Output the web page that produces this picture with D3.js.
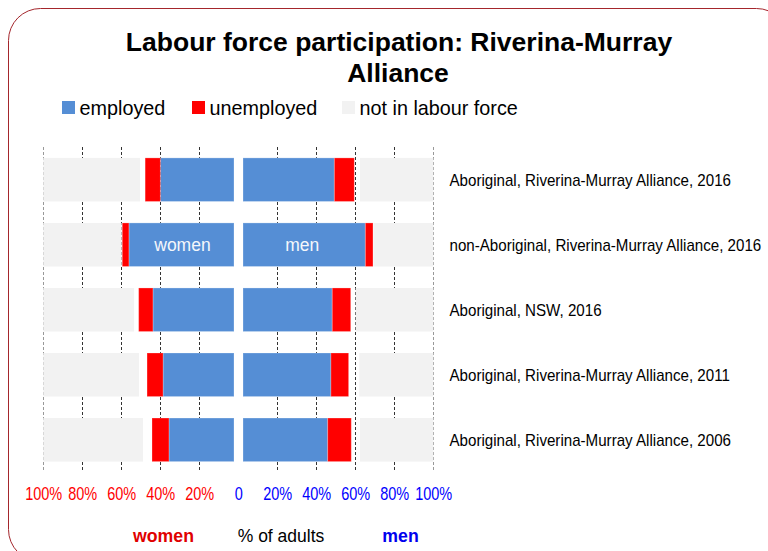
<!DOCTYPE html>
<html>
<head>
<meta charset="utf-8">
<script src="https://cdn.jsdelivr.net/npm/d3@7"></script>
<style>
  html, body { margin: 0; padding: 0; background: #fff; }
  svg { display: block; font-family: "Liberation Sans", Arial, sans-serif; }
</style>
</head>
<body>
<svg id="chart" width="768" height="551"></svg>
<script>
// ---------- data ----------
const categories = [
  "Aboriginal, Riverina-Murray Alliance, 2016",
  "non-Aboriginal, Riverina-Murray Alliance, 2016",
  "Aboriginal, NSW, 2016",
  "Aboriginal, Riverina-Murray Alliance, 2011",
  "Aboriginal, Riverina-Murray Alliance, 2006"
];
const womenEmployed   = [38.6, 55.1, 42.5, 37.2, 34.1];
const womenUnemployed = [8.0, 3.5, 7.5, 8.4, 8.9];
const womenNotInLF    = [50.7, 41.1, 47.6, 50.2, 52.3];
const menEmployed     = [48.0, 64.3, 46.9, 46.2, 44.5];
const menUnemployed   = [10.5, 4.0, 9.7, 9.3, 12.4];
const menNotInLF      = [38.5, 31.5, 40.8, 38.9, 38.5];
const tickValues = [-100, -80, -60, -40, -20, 0, 20, 40, 60, 80, 100];
const seriesNames = ["employed", "unemployed", "not in labour force"];

// ---------- styles ----------
const C_EMP = "#558ed5", C_UNE = "#ff0000", C_NIL = "#f2f2f2";

const svg = d3.select("#chart");

// frame
svg.append("rect")
  .attr("x", 8.5).attr("y", 8.5).attr("width", 780).attr("height", 553)
  .attr("rx", 32).attr("ry", 32)
  .attr("fill", "none").attr("stroke", "#a4262c").attr("stroke-width", 1);

// title
const title = svg.append("text").attr("text-anchor", "middle")
  .attr("font-weight", "bold").attr("font-size", 26.5).attr("fill", "#000");
title.append("tspan").attr("x", 399).attr("y", 51).text("Labour force participation: Riverina-Murray");
title.append("tspan").attr("x", 398).attr("y", 82).text("Alliance");

// legend
const legendColors = [C_EMP, C_UNE, C_NIL];
const legendX = [62, 192, 342];
const lg = svg.append("g");
seriesNames.forEach((name, i) => {
  lg.append("rect").attr("x", legendX[i]).attr("y", 101).attr("width", 13).attr("height", 13)
    .attr("fill", legendColors[i]);
  lg.append("text").attr("x", legendX[i] + 17.5).attr("y", 114.5)
    .attr("font-size", 19.8).attr("fill", "#000").text(name);
});

// scales
const axisScale = d3.scaleLinear().domain([-100, 100]).range([43.3, 433.3]);
const xWomen = d3.scaleLinear().domain([0, 100]).range([234, 43.3]);
const xMen   = d3.scaleLinear().domain([0, 100]).range([243, 433.3]);
const y = d3.scaleBand().domain(categories).range([147.5, 472])
  .paddingInner(0.33).paddingOuter(0.16);

// gridlines (dashed, not at zero)
svg.append("g").selectAll("line")
  .data(tickValues.filter(d => d !== 0))
  .join("line")
  .attr("x1", d => Math.round(axisScale(d)) + 0.5)
  .attr("x2", d => Math.round(axisScale(d)) + 0.5)
  .attr("y1", 147).attr("y2", 472)
  .attr("stroke", d => Math.abs(d) === 100 ? "#999" : "#333")
  .attr("stroke-width", 1)
  .attr("stroke-dasharray", "3,2");

const rows = categories.map((c, i) => ({
  cat: c,
  we: womenEmployed[i], wu: womenUnemployed[i], wn: womenNotInLF[i],
  me: menEmployed[i], mu: menUnemployed[i], mn: menNotInLF[i]
}));

const bars = svg.append("g");
const bh = y.bandwidth();
// women
bars.selectAll(".wn").data(rows).join("rect")
  .attr("x", d => xWomen(100)).attr("y", d => y(d.cat))
  .attr("width", d => xWomen(100 - d.wn) - xWomen(100)).attr("height", bh)
  .attr("fill", C_NIL);
bars.selectAll(".we").data(rows).join("rect")
  .attr("x", d => xWomen(d.we)).attr("y", d => y(d.cat))
  .attr("width", d => xWomen(0) - xWomen(d.we)).attr("height", bh)
  .attr("fill", C_EMP).attr("stroke", "#fff").attr("stroke-opacity", 0.25);
bars.selectAll(".wu").data(rows).join("rect")
  .attr("x", d => xWomen(d.we + d.wu)).attr("y", d => y(d.cat))
  .attr("width", d => xWomen(d.we) - xWomen(d.we + d.wu)).attr("height", bh)
  .attr("fill", C_UNE).attr("stroke", "#fff").attr("stroke-opacity", 0.25);
// men
bars.selectAll(".mn").data(rows).join("rect")
  .attr("x", d => xMen(100 - d.mn)).attr("y", d => y(d.cat))
  .attr("width", d => xMen(100) - xMen(100 - d.mn)).attr("height", bh)
  .attr("fill", C_NIL);
bars.selectAll(".me").data(rows).join("rect")
  .attr("x", d => xMen(0)).attr("y", d => y(d.cat))
  .attr("width", d => xMen(d.me) - xMen(0)).attr("height", bh)
  .attr("fill", C_EMP).attr("stroke", "#fff").attr("stroke-opacity", 0.25);
bars.selectAll(".mu").data(rows).join("rect")
  .attr("x", d => xMen(d.me)).attr("y", d => y(d.cat))
  .attr("width", d => xMen(d.me + d.mu) - xMen(d.me)).attr("height", bh)
  .attr("fill", C_UNE).attr("stroke", "#fff").attr("stroke-opacity", 0.25);

// in-bar labels on the second row
const r2 = rows[1];
svg.append("text").attr("text-anchor", "middle")
  .attr("x", (xWomen(0) + xWomen(r2.we)) / 2 + 1).attr("y", y(r2.cat) + bh / 2)
  .attr("dy", "0.35em").attr("font-size", 17.5).attr("fill", "#f4f7fb").text("women");
svg.append("text").attr("text-anchor", "middle")
  .attr("x", (xMen(0) + xMen(r2.me)) / 2 - 2).attr("y", y(r2.cat) + bh / 2)
  .attr("dy", "0.35em").attr("font-size", 17.5).attr("fill", "#f4f7fb").text("men");

// category labels (horizontally condensed via a group transform)
const kCat = 0.89;
svg.append("g").attr("transform", `scale(${kCat},1)`)
  .selectAll("text").data(categories).join("text")
  .attr("x", 449.5 / kCat).attr("y", d => y(d) + bh / 2).attr("dy", "0.36em")
  .attr("font-size", 17).attr("fill", "#000").text(d => d);

// bottom axis labels (condensed)
const kAx = 0.82;
const axisG = svg.append("g").attr("transform", `translate(0,500) scale(${kAx},1)`)
  .call(d3.axisBottom(axisScale.copy().range(axisScale.range().map(v => v / kAx)))
    .tickValues(tickValues).tickSize(0).tickPadding(0)
    .tickFormat(d => d === 0 ? "0" : Math.abs(d) + "%"));
axisG.select(".domain").remove();
axisG.selectAll("text")
  .attr("dy", 0).attr("y", 0)
  .attr("font-family", "Liberation Sans, Arial, sans-serif")
  .attr("font-size", 17.7)
  .attr("fill", d => d < 0 ? "#ff0000" : "#0000ff");

// axis titles
svg.append("text").attr("x", 163.5).attr("y", 541.5).attr("text-anchor", "middle")
  .attr("font-size", 17.7).attr("font-weight", "bold").attr("fill", "#e00000").text("women");
svg.append("text").attr("x", 281).attr("y", 541.5).attr("text-anchor", "middle")
  .attr("font-size", 17.5).attr("fill", "#000").text("% of adults");
svg.append("text").attr("x", 400.5).attr("y", 541.5).attr("text-anchor", "middle")
  .attr("font-size", 17.7).attr("font-weight", "bold").attr("fill", "#0000ee").text("men");
</script>
</body>
</html>
